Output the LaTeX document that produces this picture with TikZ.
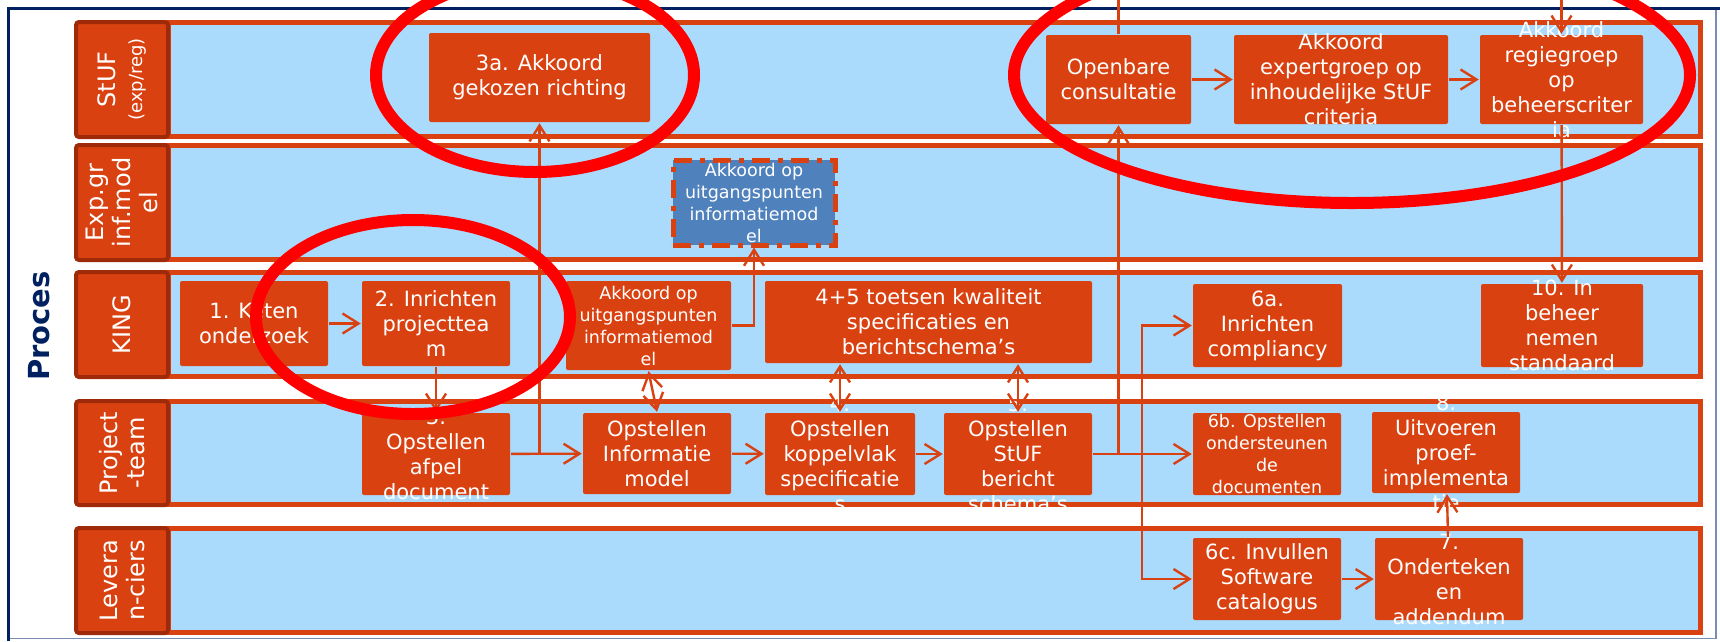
\documentclass[tikz,border=0pt]{standalone}
\usepackage{fontspec}
\setmainfont{DejaVu Sans}
\usetikzlibrary{arrows.meta}

\definecolor{boxorange}{RGB}{217,65,17}
\definecolor{hdrred}{RGB}{158,42,10}
\definecolor{laneblue}{RGB}{170,219,253}
\definecolor{stepblue}{RGB}{79,129,189}
\definecolor{navy}{RGB}{0,32,96}
\definecolor{framegray}{RGB}{120,140,180}
\definecolor{ringred}{RGB}{255,0,0}

\begin{document}
\begin{tikzpicture}[%
    x=1pt, y=-1pt,
    >={Straight Barb[length=16pt,width=20pt]},
    line width=2.4pt,
    lane/.style={draw=boxorange, line width=5pt, fill=laneblue},
    hdr/.style={draw=hdrred, line width=4pt, fill=boxorange, rounded corners=3pt,
      rotate=90, text=white, align=center, inner sep=0pt, minimum height=92pt,
      font=\fontsize{24}{27}\selectfont},
    pbox/.style={fill=boxorange, rounded corners=2pt, inner sep=0pt},
    ptext/.style={text=white, align=center, inner sep=0pt,
      font=\fontsize{21}{25}\selectfont},
    psmall/.style={ptext, font=\fontsize{17.5}{22}\selectfont},
    link/.style={draw=boxorange},
    ring/.style={draw=ringred, line width=12pt}
  ]

  \path[use as bounding box] (0,0) rectangle (1720,641);
  \clip (0,0) rectangle (1720,641);

  % frame
  \draw[framegray, line width=1.5pt] (8.5,638.5) -- (1716,638.5) -- (1716,8);
  \draw[navy, line width=3pt] (8.5,641) -- (8.5,8) -- (1720,8);

  % lanes
  \draw[lane] (168,22.5) rectangle (1700,136);
  \draw[lane] (168,145.5) rectangle (1700,259.5);
  \draw[lane] (168,272.5) rectangle (1700,376.5);
  \draw[lane] (168,401.5) rectangle (1700,504.5);
  \draw[lane] (168,528.5) rectangle (1700,632.5);

  \node[hdr, minimum width=115pt] (hStUF) at (122,79.5)
    {StUF\\{\fontsize{18}{20}\selectfont(exp/reg)}};
  \node[hdr, minimum width=115pt] (hExp) at (122,202.5) {Exp.gr\\inf.mod\\el};
  \node[hdr, minimum width=105pt] (hKING) at (122,324.5) {KING};
  \node[hdr, minimum width=104pt] (hProj) at (122,453) {Project\\-team};
  \node[hdr, minimum width=105pt] (hLev) at (122,580.5) {Levera\\n-ciers};

  \node[rotate=90, text=navy, font=\bfseries\fontsize{29}{30}\selectfont] (proces)
    at (39,326) {Proces};

  % StUF
  \node[pbox, minimum width=221pt, minimum height=89pt,
    label={[ptext]center:{3a. Akkoord\\gekozen richting}}] (A3a) at (539.5,77.5) {};
  \node[pbox, minimum width=145pt, minimum height=89pt,
    label={[ptext]center:{Openbare\\consultatie}}] (Open) at (1118.5,79.5) {};
  \node[pbox, minimum width=214pt, minimum height=89pt,
    label={[ptext]center:{Akkoord\\expertgroep op\\inhoudelijke StUF\\criteria}}] (Expert) at (1341,79.5) {};
  \node[pbox, minimum width=163pt, minimum height=89pt,
    label={[ptext]center:{Akkoord\\regiegroep\\op\\beheerscriter\\ia}}] (Regie) at (1561.5,79.5) {};

  % Exp.gr
  \node[fill=stepblue, draw=boxorange, line width=5pt, inner sep=0pt,
    dash pattern=on 18pt off 8pt on 5pt off 8pt,
    minimum width=162pt, minimum height=85pt,
    label={[psmall]center:{Akkoord op\\uitgangspunten\\informatiemod\\el}}] (Blue) at (754,202.5) {};

  % KING
  \node[pbox, minimum width=148pt, minimum height=85pt,
    label={[ptext]center:{1. Keten\\onderzoek}}] (K1) at (254,323.5) {};
  \node[pbox, minimum width=148pt, minimum height=85pt,
    label={[ptext]center:{2. Inrichten\\projecttea\\m}}] (K2) at (436,323.5) {};
  \node[pbox, minimum width=165pt, minimum height=89pt,
    label={[psmall]center:{Akkoord op\\uitgangspunten\\informatiemod\\el}}] (KA) at (648.5,325.5) {};
  \node[pbox, minimum width=327pt, minimum height=82pt,
    label={[ptext]center:{4+5 toetsen kwaliteit\\specificaties en\\berichtschema’s}}] (K45) at (928.5,322) {};
  \node[pbox, minimum width=149pt, minimum height=83pt,
    label={[ptext]center:{6a.\\Inrichten\\compliancy}}] (K6a) at (1267.5,325.5) {};
  \node[pbox, minimum width=162pt, minimum height=83pt,
    label={[ptext]center:{10. In\\beheer\\nemen\\standaard}}] (K10) at (1562,325.5) {};

  % Project-team
  \node[pbox, minimum width=148pt, minimum height=82pt,
    label={[ptext]center:{3.\\Opstellen\\afpel\\document}}] (P3) at (436,454) {};
  \node[pbox, minimum width=148pt, minimum height=81pt,
    label={[ptext]center:{Opstellen\\Informatie\\model}}] (Pinfo) at (657,453.5) {};
  \node[pbox, minimum width=150pt, minimum height=82pt,
    label={[ptext]center:{4.\\Opstellen\\koppelvlak\\specificatie\\s}}] (P4) at (840,454) {};
  \node[pbox, minimum width=148pt, minimum height=82pt,
    label={[ptext]center:{5.\\Opstellen\\StUF\\bericht\\schema’s}}] (P5) at (1018,454) {};
  \node[pbox, minimum width=148pt, minimum height=82pt,
    label={[psmall]center:{6b. Opstellen\\ondersteunen\\de\\documenten}}] (P6b) at (1267,454) {};
  \node[pbox, minimum width=148pt, minimum height=81pt,
    label={[ptext]center:{8.\\Uitvoeren\\proef-\\implementa\\tie}}] (P8) at (1446,452.5) {};

  % Leveranciers
  \node[pbox, minimum width=148pt, minimum height=82pt,
    label={[ptext]center:{6c. Invullen\\Software\\catalogus}}] (L6c) at (1267,579) {};
  \node[pbox, minimum width=148pt, minimum height=82pt,
    label={[ptext]center:{7.\\Onderteken\\en\\addendum}}] (L7) at (1449,579) {};

  \coordinate (fork) at (1142,454);
  \coordinate (inOpen) at (1118.5,0);
  \coordinate (inRegie) at (1561.5,0);

  \draw[link, ->] (K1) -- (K2);
  \draw[link, ->] (K2) -- (P3);
  \draw[link, ->] (P3) -- (Pinfo);
  \draw[link, ->] (P3.east) -| (A3a.south);
  \draw[link, ->] (KA.east) -| (Blue.south);
  \draw[link, <->] (KA.south) -- (Pinfo.north);
  \draw[link, ->] (Pinfo) -- (P4);
  \draw[link, ->] (P4) -- (P5);
  \draw[link, <->] (P4.north |- K45.south) -- (P4.north);
  \draw[link, <->] (P5.north |- K45.south) -- (P5.north);
  \draw[link, ->] (P5.east) -| (Open.south);
  \draw[link, ->] (P5) -- (P6b);
  \draw[link, ->] (fork) |- (K6a.west);
  \draw[link, ->] (fork) |- (L6c.west);
  \draw[link] (inOpen) -- (Open.north);
  \draw[link, ->] (inRegie) -- (Regie.north);
  \draw[link, ->] (Open) -- (Expert);
  \draw[link, ->] (Expert) -- (Regie);
  \draw[link, ->] (Regie) -- (K10);
  \draw[link, ->] (L6c) -- (L7);
  \draw[link, ->] (L7) -- (P8);

  % rings
  \draw[ring] (535,75) ellipse [x radius=159, y radius=97];
  \draw[ring] (413,317) ellipse [x radius=157, y radius=97];
  \draw[ring] (1352,75) ellipse [x radius=338, y radius=128];
\end{tikzpicture}
\end{document}
